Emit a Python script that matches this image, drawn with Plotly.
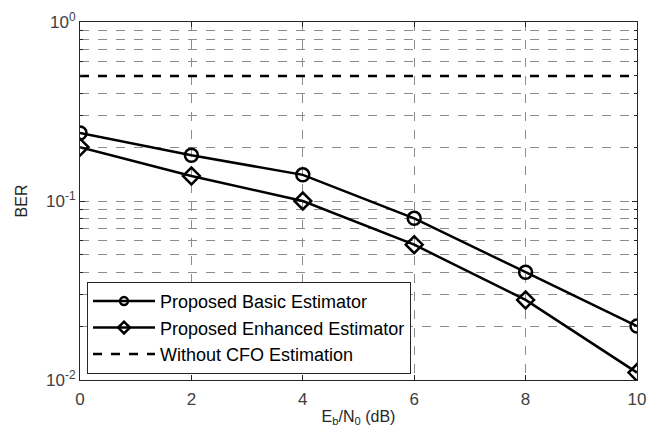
import plotly.graph_objects as go

ebn0 = [0, 2, 4, 6, 8, 10]
ber_basic = [0.24, 0.18, 0.14, 0.08, 0.04, 0.02]
ber_enhanced = [0.20, 0.138, 0.10, 0.057, 0.028, 0.011]
ber_no_cfo = [0.5, 0.5, 0.5, 0.5, 0.5, 0.5]

series_names = ["Proposed Basic Estimator", "Proposed Enhanced Estimator", "Without CFO Estimation"]

y_major = [0.01, 0.1, 1]
y_major_text = ["10<sup>-2</sup>", "10<sup>-1</sup>", "10<sup>0</sup>"]
y_minor = [k * 0.01 for k in range(2, 10)] + [k * 0.1 for k in range(2, 10)]
x_ticks = [0, 2, 4, 6, 8, 10]

FONT = "Liberation Sans, Arial"
LW = 2.5
fig = go.Figure()
# data traces
fig.add_trace(go.Scatter(x=ebn0, y=ber_basic, mode="lines+markers", name=series_names[0], showlegend=False,
                         line=dict(color="black", width=LW),
                         marker=dict(symbol="circle-open", size=13, color="black", line=dict(width=LW))))
fig.add_trace(go.Scatter(x=ebn0, y=ber_enhanced, mode="lines+markers", name=series_names[1], showlegend=False,
                         line=dict(color="black", width=LW),
                         marker=dict(symbol="diamond-open", size=13, color="black", line=dict(width=LW))))
fig.add_trace(go.Scatter(x=ebn0, y=ber_no_cfo, mode="lines", name=series_names[2], showlegend=False,
                         line=dict(color="black", width=LW, dash="dash")))
# legend entries (smaller markers as in the reference legend)
fig.add_trace(go.Scatter(x=[None], y=[None], mode="lines+markers", name=series_names[0],
                         line=dict(color="black", width=LW),
                         marker=dict(symbol="circle-open", size=8, color="black", line=dict(width=LW))))
fig.add_trace(go.Scatter(x=[None], y=[None], mode="lines+markers", name=series_names[1],
                         line=dict(color="black", width=LW),
                         marker=dict(symbol="diamond-open", size=9, color="black", line=dict(width=LW))))
fig.add_trace(go.Scatter(x=[None], y=[None], mode="lines", name=series_names[2],
                         line=dict(color="black", width=LW, dash="dash")))

grid_col = "#8c8c8c"
fig.update_xaxes(range=[0, 10], tickvals=x_ticks, showgrid=True, gridcolor=grid_col, griddash="dash",
                 gridwidth=1, zeroline=False, showline=True, linecolor="#262626", linewidth=1, mirror="ticks",
                 ticks="inside", ticklen=5, tickcolor="#262626", automargin=False, ticklabelstandoff=4,
                 tickfont=dict(family=FONT, size=17, color="#404040"),
                 title=dict(text="E<sub>b</sub>/N<sub>0</sub> (dB)", standoff=2,
                            font=dict(family=FONT, size=16, color="#262626")))
fig.update_yaxes(type="log", range=[-2, 0], tickvals=y_major, ticktext=y_major_text,
                 showgrid=True, gridcolor=grid_col, griddash="dash", gridwidth=1, zeroline=False,
                 showline=True, linecolor="#262626", linewidth=1, mirror="ticks",
                 ticks="inside", ticklen=5, tickcolor="#262626", automargin=False,
                 tickfont=dict(family=FONT, size=17, color="#404040"),
                 minor=dict(tickvals=y_minor, showgrid=True, gridcolor=grid_col, griddash="dash",
                            ticks="inside", ticklen=3, tickcolor="#262626"),
                 title=dict(text="BER", standoff=14,
                            font=dict(family=FONT, size=16, color="#262626")))

fig.update_layout(width=659, height=435, margin=dict(l=72, r=30, t=14, b=63),
                  plot_bgcolor="white", paper_bgcolor="white",
                  font=dict(family=FONT, size=16, color="#262626"),
                  legend=dict(x=0.0126, y=0.017, xanchor="left", yanchor="bottom",
                              bgcolor="white", bordercolor="#262626", borderwidth=1,
                              font=dict(family=FONT, size=18, color="#000000"), tracegroupgap=0,
                              itemwidth=62))
fig.write_html("out.html")
